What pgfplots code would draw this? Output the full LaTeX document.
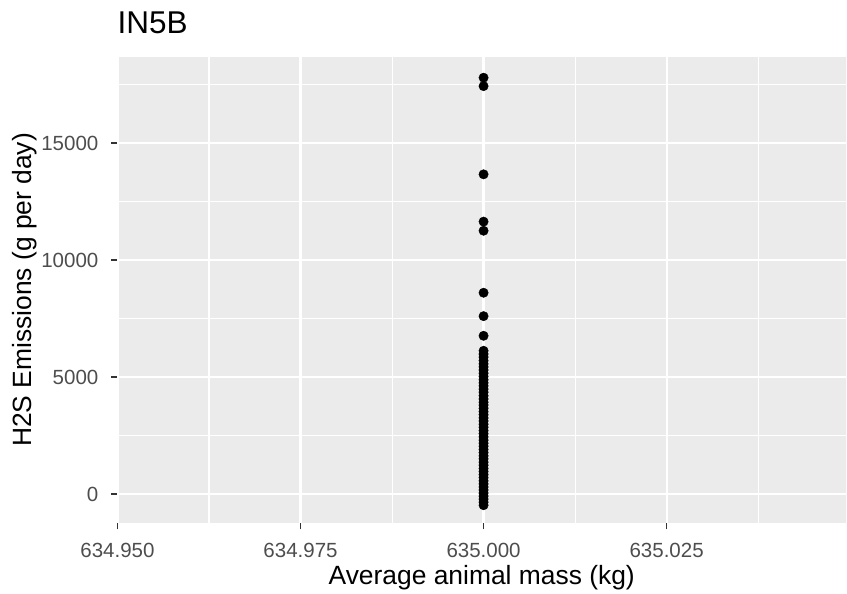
\documentclass[border=0pt]{standalone}
\usepackage{fontspec}
\setmainfont{Liberation Sans}
\usepackage{pgfplots}
\pgfplotsset{compat=1.18}
\definecolor{panelbg}{HTML}{EBEBEB}
\definecolor{ticklab}{HTML}{4D4D4D}
\definecolor{tickcol}{HTML}{333333}
\begin{document}
\begin{tikzpicture}
\path[use as bounding box] (-117.5pt,-71pt) rectangle (729.5pt,523pt);
\begin{axis}[
  scale only axis,
  width=728.5pt, height=466pt,
  xmin=634.95, xmax=635.0495,
  ymin=-1240, ymax=18675,
  xtick={634.95,634.975,635,635.025},
  xticklabels={634.950,634.975,635.000,635.025},
  minor xtick={634.9625,634.9875,635.0125,635.0375},
  ytick={0,5000,10000,15000},
  yticklabels={0,5000,10000,15000},
  scaled y ticks=false,
  scaled x ticks=false,
  minor ytick={2500,7500,12500,17500},
  /pgf/number format/assume math mode=true,
  /pgf/number format/1000 sep={},
  axis background/.style={fill=panelbg},
  axis line style={draw=none},
  grid=both,
  major grid style={white, line width=2.2pt},
  minor grid style={white, line width=1.1pt},
  minor tick length=0pt,
  major tick length=6.5pt,
  tick align=outside,
  xtick pos=bottom, ytick pos=left,
  tick style={tickcol, line width=1.1pt},
  ticklabel style={font=\fontsize{20.5}{24}\selectfont, text=ticklab, inner sep=0pt},
  xticklabel style={anchor=base, yshift=-28.5pt},
  yticklabel style={anchor=east, xshift=-12.5pt},
  xlabel={Average animal mass (kg)},
  ylabel={H2S Emissions (g per day)},
  label style={font=\fontsize{26.4}{30}\selectfont, text=black, inner sep=0pt},
  xlabel style={at={(axis description cs:0.5,-0.1178)}, anchor=center},
  ylabel style={at={(axis description cs:-0.1174,0.5)}, anchor=base},
  title={IN5B},
  title style={font=\fontsize{31.5}{36}\selectfont, at={(axis description cs:0,1.038)}, anchor=base west, inner sep=0pt},
]
\addplot[only marks, mark=*, mark size=4.7pt, black, mark options={draw=black, fill=black}] coordinates {
(635,17790) (635,17430) (635,13660) (635,11640) (635,11250) (635,8600) (635,7600) (635,6760)
(635,6120) (635,5980) (635,5850) (635,5700) (635,5560) (635,5430) (635,5300) (635,5160)
(635,5020) (635,4880) (635,4750) (635,4620) (635,4480) (635,4350) (635,4200) (635,4060)
(635,3920) (635,3800) (635,3660) (635,3520) (635,3390) (635,3250) (635,3120) (635,2980)
(635,2850) (635,2710) (635,2580) (635,2440) (635,2300) (635,2170) (635,2040) (635,1900)
(635,1770) (635,1630) (635,1500) (635,1360) (635,1230) (635,1090) (635,960) (635,830)
(635,700) (635,560) (635,430) (635,300) (635,170) (635,40) (635,-90) (635,-220)
(635,-350) (635,-480)
};
\end{axis}
\end{tikzpicture}
\end{document}
